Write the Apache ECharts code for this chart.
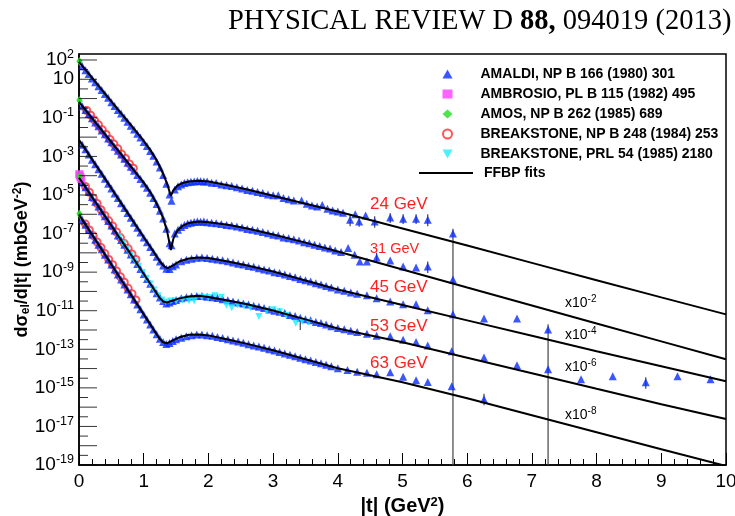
<!DOCTYPE html>
<html>
<head>
<meta charset="utf-8">
<script src="https://cdn.jsdelivr.net/npm/echarts@6/dist/echarts.min.js"></script>
</head>
<body style="margin:0">
<div id="container" style="width:735px;height:516px"></div>
<script>
// every value below is log10(dsigma/dt), paired with |t|
// (the y axis is a value axis in decades, labelled as powers of ten)
const fit24 = [[0,1.90],[0.2,1.08],[0.4,0.26],[0.6,-0.56],[0.8,-1.37],[1.0,-2.2],[1.1,-2.66],[1.2,-3.2],[1.3,-3.9],[1.36,-4.4],[1.42,-5.05],[1.46,-4.75],[1.52,-4.52],[1.6,-4.38],[1.7,-4.3],[1.85,-4.26],[2.0,-4.3],[2.3,-4.5],[2.6,-4.72],[3.0,-5.04],[3.5,-5.45],[4.0,-5.86],[5,-6.74],[6,-7.62],[7,-8.52],[8,-9.42],[9,-10.31],[10,-11.19]];
const fit31 = [[0,-0.17],[0.2,-1.01],[0.4,-1.85],[0.6,-2.68],[0.8,-3.52],[1.0,-4.36],[1.1,-4.85],[1.2,-5.45],[1.3,-6.2],[1.36,-6.85],[1.42,-7.85],[1.46,-7.25],[1.52,-6.85],[1.6,-6.6],[1.7,-6.45],[1.85,-6.38],[2.0,-6.41],[2.3,-6.54],[2.6,-6.74],[3.0,-7.05],[3.5,-7.47],[4.0,-7.93],[5,-8.86],[6,-9.8],[7,-10.73],[8,-11.66],[9,-12.59],[10,-13.52]];
const fit45 = [[0,-2.14],[0.25,-3.4],[0.5,-4.66],[0.75,-5.93],[1.0,-7.19],[1.15,-7.93],[1.25,-8.45],[1.32,-8.71],[1.37,-8.79],[1.45,-8.66],[1.55,-8.45],[1.7,-8.29],[1.85,-8.24],[2.0,-8.27],[2.3,-8.45],[2.6,-8.66],[3.0,-8.97],[3.5,-9.43],[4.0,-9.9],[5,-10.7],[6,-11.5],[7,-12.3],[8,-13.1],[9,-13.88],[10,-14.66]];
const fit53 = [[0,-4.1],[0.25,-5.35],[0.5,-6.59],[0.75,-7.83],[1.0,-9.1],[1.15,-9.85],[1.24,-10.31],[1.3,-10.52],[1.36,-10.57],[1.45,-10.47],[1.55,-10.36],[1.7,-10.26],[1.85,-10.23],[2.0,-10.29],[2.3,-10.47],[2.6,-10.67],[3.0,-10.99],[3.5,-11.45],[4.0,-11.92],[5,-12.64],[6,-13.44],[7,-14.24],[8,-15.05],[9,-15.85],[10,-16.62]];
const fit63 = [[0,-6.02],[0.25,-7.31],[0.5,-8.6],[0.75,-9.9],[1.0,-11.19],[1.15,-11.97],[1.24,-12.43],[1.3,-12.64],[1.36,-12.69],[1.45,-12.54],[1.55,-12.38],[1.7,-12.25],[1.85,-12.23],[2.0,-12.28],[2.3,-12.49],[2.6,-12.72],[3.0,-13.05],[3.5,-13.52],[4.0,-13.98],[5,-14.71],[6,-15.54],[7,-16.42],[8,-17.3],[9,-18.18],[10,-19.05]];

const amaldi24 = [[0.05,1.68],[0.1,1.47],[0.15,1.27],[0.2,1.04],[0.25,0.85],[0.3,0.64],[0.35,0.44],[0.4,0.23],[0.45,0.04],[0.5,-0.19],[0.55,-0.38],[0.6,-0.59],[0.65,-0.78],[0.7,-1.0],[0.75,-1.2],[0.8,-1.41],[0.85,-1.6],[0.9,-1.82],[0.95,-2.02],[1.0,-2.25],[1.05,-2.46],[1.1,-2.72],[1.15,-2.97],[1.2,-3.26],[1.25,-3.57],[1.3,-3.96],[1.35,-4.42],[1.4,-4.98],[1.43,-5.3],[1.48,-4.72],[1.53,-4.55],[1.58,-4.45],[1.63,-4.38],[1.68,-4.34],[1.73,-4.31],[1.78,-4.3],[1.83,-4.27],[1.88,-4.29],[1.93,-4.3],[1.98,-4.3],[2.05,-4.36],[2.12,-4.38],[2.2,-4.45],[2.28,-4.5],[2.36,-4.54],[2.44,-4.6],[2.52,-4.66],[2.6,-4.74],[2.68,-4.78],[2.76,-4.84],[2.84,-4.9],[2.92,-4.97],[3.0,-5.02],[3.08,-5.02],[3.16,-5.16],[3.24,-5.22],[3.32,-5.28],[3.44,-5.28],[3.52,-5.46],[3.6,-5.54],[3.68,-5.6],[3.76,-5.52],[3.84,-5.72],[3.92,-5.8],[4.0,-5.86],[4.08,-5.92],[4.19,-6.28],[4.27,-6.0],[4.33,-6.38],[4.43,-6.07],[4.57,-6.38],[4.81,-6.17],[5.01,-6.23],[5.21,-6.23],[5.39,-6.28],[5.78,-7.0]];
const amaldi31 = [[0.05,-0.4],[0.1,-0.6],[0.15,-0.8],[0.2,-1.02],[0.25,-1.24],[0.3,-1.43],[0.35,-1.66],[0.4,-1.85],[0.45,-2.07],[0.5,-2.27],[0.55,-2.5],[0.6,-2.7],[0.65,-2.9],[0.7,-3.12],[0.75,-3.33],[0.8,-3.54],[0.85,-3.74],[0.9,-3.96],[0.95,-4.17],[1.0,-4.4],[1.05,-4.62],[1.1,-4.88],[1.15,-5.15],[1.2,-5.47],[1.25,-5.82],[1.3,-6.22],[1.35,-6.75],[1.4,-7.5],[1.43,-7.6],[1.48,-7.0],[1.53,-6.8],[1.58,-6.66],[1.63,-6.56],[1.68,-6.48],[1.73,-6.44],[1.78,-6.4],[1.83,-6.38],[1.88,-6.39],[1.93,-6.38],[1.98,-6.42],[2.05,-6.44],[2.12,-6.47],[2.2,-6.5],[2.28,-6.55],[2.36,-6.58],[2.44,-6.64],[2.52,-6.68],[2.6,-6.76],[2.68,-6.8],[2.76,-6.86],[2.84,-6.92],[2.92,-6.98],[3.0,-7.06],[3.08,-7.1],[3.16,-7.2],[3.24,-7.24],[3.32,-7.3],[3.4,-7.36],[3.48,-7.45],[3.56,-7.5],[3.64,-7.58],[3.72,-7.64],[3.8,-7.72],[3.88,-7.78],[3.96,-7.88],[4.05,-7.95],[4.16,-7.75],[4.26,-8.1],[4.34,-8.45],[4.45,-8.45],[4.6,-8.24],[4.81,-8.4],[5.01,-8.71],[5.21,-8.76],[5.39,-8.71],[5.78,-9.38]];
const amaldi45 = [[0.05,-2.4],[0.1,-2.63],[0.15,-2.9],[0.2,-3.17],[0.25,-3.4],[0.3,-3.66],[0.35,-3.9],[0.4,-4.16],[0.45,-4.42],[0.5,-4.66],[0.55,-4.92],[0.6,-5.16],[0.65,-5.43],[0.7,-5.68],[0.75,-5.94],[0.8,-6.18],[0.85,-6.44],[0.9,-6.7],[0.95,-6.94],[1.0,-7.2],[1.05,-7.45],[1.1,-7.7],[1.15,-7.95],[1.2,-8.2],[1.25,-8.45],[1.3,-8.66],[1.35,-8.82],[1.4,-8.84],[1.45,-8.7],[1.5,-8.6],[1.58,-8.44],[1.66,-8.36],[1.74,-8.3],[1.82,-8.26],[1.9,-8.24],[1.98,-8.27],[2.06,-8.3],[2.14,-8.34],[2.22,-8.38],[2.3,-8.44],[2.38,-8.5],[2.46,-8.56],[2.54,-8.6],[2.62,-8.68],[2.7,-8.72],[2.78,-8.8],[2.86,-8.86],[2.94,-8.92],[3.02,-9.0],[3.1,-9.05],[3.18,-9.12],[3.26,-9.2],[3.34,-9.26],[3.42,-9.36],[3.5,-9.42],[3.58,-9.48],[3.66,-9.58],[3.74,-9.64],[3.82,-9.72],[3.9,-9.8],[4.0,-9.9],[4.1,-9.96],[4.2,-10.06],[4.3,-10.12],[4.45,-10.2],[4.6,-10.36],[4.81,-10.52],[5.01,-10.67],[5.21,-10.67],[5.39,-10.98],[5.78,-11.19],[6.26,-11.4],[6.77,-11.4],[7.25,-11.97]];
const amaldi53 = [[0.05,-4.35],[0.1,-4.6],[0.15,-4.84],[0.2,-5.1],[0.25,-5.35],[0.3,-5.6],[0.35,-5.84],[0.4,-6.1],[0.45,-6.35],[0.5,-6.58],[0.55,-6.84],[0.6,-7.1],[0.65,-7.34],[0.7,-7.58],[0.75,-7.84],[0.8,-8.08],[0.85,-8.34],[0.9,-8.58],[0.95,-8.84],[1.0,-9.1],[1.05,-9.36],[1.1,-9.6],[1.15,-9.86],[1.2,-10.1],[1.25,-10.32],[1.3,-10.5],[1.35,-10.62],[1.4,-10.58],[1.45,-10.5],[1.5,-10.44],[1.58,-10.36],[1.66,-10.3],[1.74,-10.26],[1.82,-10.24],[1.9,-10.24],[1.98,-10.27],[2.06,-10.3],[2.14,-10.34],[2.22,-10.4],[2.3,-10.46],[2.38,-10.52],[2.46,-10.58],[2.54,-10.62],[2.62,-10.68],[2.7,-10.74],[2.78,-10.8],[2.86,-10.86],[2.94,-10.94],[3.02,-11.0],[3.1,-11.06],[3.18,-11.12],[3.26,-11.22],[3.34,-11.28],[3.42,-11.36],[3.5,-11.44],[3.58,-11.5],[3.66,-11.58],[3.74,-11.64],[3.82,-11.72],[3.9,-11.8],[4.0,-11.9],[4.1,-11.96],[4.2,-12.04],[4.3,-12.1],[4.45,-12.2],[4.6,-12.3],[4.81,-12.33],[5.01,-12.5],[5.21,-12.62],[5.39,-12.8],[5.76,-13.1],[6.26,-13.42],[6.77,-13.83],[7.25,-14.04],[7.76,-14.55],[8.25,-14.4],[8.76,-14.71],[9.25,-14.4],[9.76,-14.55]];
const amaldi63 = [[0.05,-6.28],[0.1,-6.54],[0.15,-6.8],[0.2,-7.05],[0.25,-7.32],[0.3,-7.58],[0.35,-7.82],[0.4,-8.1],[0.45,-8.35],[0.5,-8.6],[0.55,-8.86],[0.6,-9.12],[0.65,-9.38],[0.7,-9.64],[0.75,-9.9],[0.8,-10.15],[0.85,-10.42],[0.9,-10.68],[0.95,-10.92],[1.0,-11.2],[1.05,-11.46],[1.1,-11.72],[1.15,-11.97],[1.2,-12.22],[1.25,-12.45],[1.3,-12.62],[1.35,-12.72],[1.4,-12.68],[1.45,-12.57],[1.5,-12.48],[1.58,-12.4],[1.66,-12.32],[1.74,-12.27],[1.82,-12.24],[1.9,-12.24],[1.98,-12.27],[2.06,-12.3],[2.14,-12.36],[2.22,-12.42],[2.3,-12.48],[2.38,-12.54],[2.46,-12.6],[2.54,-12.66],[2.62,-12.74],[2.7,-12.8],[2.78,-12.86],[2.86,-12.92],[2.94,-13.0],[3.02,-13.06],[3.1,-13.14],[3.18,-13.22],[3.26,-13.28],[3.34,-13.36],[3.42,-13.44],[3.5,-13.52],[3.58,-13.58],[3.66,-13.66],[3.74,-13.72],[3.82,-13.8],[3.9,-13.88],[4.0,-13.98],[4.15,-14.08],[4.3,-14.16],[4.45,-14.22],[4.6,-14.3],[4.81,-14.19],[5.01,-14.42],[5.21,-14.6],[5.39,-14.7],[5.76,-14.92],[6.26,-15.59]];

const breakNpb = [[0.12,-0.62],[0.18,-0.86],[0.24,-1.12],[0.3,-1.36],[0.36,-1.62],[0.42,-1.86],[0.48,-2.12],[0.54,-2.36],[0.6,-2.6],[0.66,-2.88],[0.72,-3.11],[0.78,-3.39],[0.84,-3.61],
  [0.1,-4.56],[0.16,-4.86],[0.22,-5.16],[0.28,-5.44],[0.34,-5.76],[0.4,-6.06],[0.46,-6.34],[0.52,-6.61],[0.58,-6.92],[0.64,-7.21],[0.7,-7.51],[0.76,-7.78],[0.82,-8.06],[0.88,-8.34],
  [0.1,-6.51],[0.16,-6.81],[0.22,-7.11],[0.28,-7.44],[0.34,-7.72],[0.4,-8.04],[0.46,-8.34],[0.52,-8.62],[0.58,-8.94],[0.64,-9.24],[0.7,-9.52],[0.76,-9.84],[0.82,-10.12],[0.88,-10.44]];
const breakPrl = [[0.62,-7.15],[0.68,-7.5],[0.74,-7.8],[0.8,-8.12],[0.86,-8.42],[0.92,-8.7],[0.98,-9.02],[1.04,-9.32],[1.1,-9.62],[1.16,-9.92],[1.22,-10.22],[1.28,-10.45],[1.34,-10.55],[1.42,-10.5],[1.5,-10.5],[1.6,-10.45],[1.7,-10.48],[1.78,-10.5],[1.9,-10.3],[2.0,-10.32],[2.1,-10.22],[2.2,-10.3],[2.28,-10.72],[2.36,-10.85],[2.45,-10.7],[2.55,-10.75],[2.65,-10.85],[2.78,-11.3],[2.9,-11.0],[3.0,-10.95],[3.1,-11.05],[3.2,-11.25],[3.35,-11.65],[3.45,-11.55],[3.55,-11.6]];
const amos = [[0.005,1.95],[0.012,1.9],[0.005,-0.08],[0.012,-0.13],[0.006,-4.02],[0.014,-4.07],[0.005,-5.96],[0.013,-6.02]];
const ambrosio = [[0.004,-3.92],[0.012,-4.0],[0.022,-4.08],[0.035,-4.18]];
// error bars: |t|, low, high (log10)
const errBars = [[4.19,-6.62,-6.0],[4.33,-6.65,-6.1],[4.57,-6.7,-6.1],[4.81,-6.45,-5.95],[5.01,-6.5,-6.0],[5.21,-6.5,-6.0],[5.39,-6.62,-6.0],[5.78,-19,-6.75],[4.6,-8.5,-8.0],[5.39,-9.05,-8.45],[7.25,-19,-11.7],[8.76,-15.05,-14.45],[6.26,-15.9,-15.3],[3.42,-12.0,-11.45]];

// y axis: decade ticks, half-decade minor ticks, labelled exponents
const yMajorTicks = [-19,-18,-17,-16,-15,-14,-13,-12,-11,-10,-9,-8,-7,-6,-5,-4,-3,-2,-1,0,1,2];
const yMinorTicks = [-18.5,-17.5,-16.5,-15.5,-14.5,-13.5,-12.5,-11.5,-10.5,-9.5,-8.5,-7.5,-6.5,-5.5,-4.5,-3.5,-2.5,-1.5,-0.5,0.5,1.5];
const labeledExp = [2, 1, -1, -3, -5, -7, -9, -11, -13, -15, -17, -19];
const xTicks = [0, 1, 2, 3, 4, 5, 6, 7, 8, 9, 10];

const NAME_AMALDI = 'AMALDI, NP B 166 (1980) 301';
const NAME_AMBROSIO = 'AMBROSIO, PL B 115 (1982) 495';
const NAME_AMOS = 'AMOS, NP B 262 (1985) 689';
const NAME_BNPB = 'BREAKSTONE, NP B 248 (1984) 253';
const NAME_BPRL = 'BREAKSTONE, PRL 54 (1985) 2180';

const SANS = 'Liberation Sans';

var dom = document.getElementById('container');
var myChart = echarts.init(dom, null, {renderer: 'canvas'});

var fitSeries = [fit24, fit31, fit45, fit53, fit63].map(function (f) {
    return {
        name: 'FFBP fits', type: 'line', data: f, showSymbol: false, symbol: 'none',
        lineStyle: {color: '#000', width: 2}, itemStyle: {color: '#000'}, z: 10, silent: true
    };
});

// inward ticks on the left axis: thin bars anchored at |t| = 0 on the y scale
function tickSeries(name, values, len) {
    return {
        name: name, type: 'scatter', silent: true, clip: false, z: 12,
        symbol: 'rect', symbolSize: [len, 1], symbolOffset: [len / 2, 0],
        itemStyle: {color: '#000'},
        data: values.map(v => [0, v])
    };
}

var legendText = {fontFamily: SANS, fontWeight: 'bold', fontSize: 14, color: '#000', lineHeight: 16};

var option = {
    animation: false,
    backgroundColor: '#fff',
    grid: {left: 79, right: 9, top: 54, bottom: 51, show: true, borderColor: '#000', borderWidth: 1.5, containLabel: false, outerBoundsMode: 'none'},
    legend: [{
        data: [NAME_AMALDI, NAME_AMBROSIO, NAME_AMOS, NAME_BNPB, NAME_BPRL],
        orient: 'vertical', left: 437, top: 61, itemWidth: 10, itemHeight: 9, itemGap: 4,
        textStyle: Object.assign({padding: [0, 0, 0, 23]}, legendText),
        selectedMode: false
    }, {
        data: [{name: 'FFBP fits', icon: 'rect'}],
        orient: 'vertical', left: 414, top: 160, itemWidth: 54, itemHeight: 2,
        textStyle: Object.assign({padding: [0, 0, 0, 6]}, legendText),
        selectedMode: false
    }],
    xAxis: {
        type: 'value', min: 0, max: 10, interval: 1,
        name: '{b||t| (GeV}{s|2}{b|)}', nameLocation: 'middle', nameGap: 30,
        nameTextStyle: {rich: {
            b: {fontFamily: SANS, fontWeight: 'bold', fontSize: 20, color: '#000'},
            s: {fontFamily: SANS, fontWeight: 'bold', fontSize: 13, color: '#000', padding: [0, 0, 9, 0]}
        }},
        axisLine: {show: true, onZero: false, lineStyle: {color: '#000', width: 1.5}},
        axisTick: {show: true, inside: true, length: 12, lineStyle: {color: '#000', width: 1}},
        minorTick: {show: true, splitNumber: 5, length: 6, lineStyle: {color: '#000', width: 1}},
        axisLabel: {fontFamily: SANS, fontSize: 19, color: '#000', margin: 7,
            formatter: v => xTicks.indexOf(v) >= 0 ? String(v) : ''},
        splitLine: {show: false}
    },
    yAxis: {
        type: 'value', min: -19, max: 2.31, interval: 1,
        name: '{b|dσ}{sub|el}{b|/d|t| (mbGeV}{sup|-2}{b|)}', nameLocation: 'middle', nameGap: 47, nameRotate: 90,
        nameMoveOverlap: false,
        nameTextStyle: {rich: {
            b: {fontFamily: SANS, fontWeight: 'bold', fontSize: 18, color: '#000'},
            sub: {fontFamily: SANS, fontWeight: 'bold', fontSize: 12, color: '#000', padding: [8, 0, 0, 0]},
            sup: {fontFamily: SANS, fontWeight: 'bold', fontSize: 12, color: '#000', padding: [0, 0, 8, 0]}
        }},
        axisLine: {show: true, onZero: false, lineStyle: {color: '#000', width: 1.5}},
        axisTick: {show: false},
        axisLabel: {
            show: true, margin: 5, showMaxLabel: false,
            formatter: function (v) {
                var n = Math.round(v);
                if (Math.abs(v - n) > 1e-6 || labeledExp.indexOf(n) < 0) return '';
                if (n === 1) return '{b|10}';
                return '{b|10}{s|' + n + '}';
            },
            rich: {
                b: {fontFamily: SANS, fontSize: 19, color: '#000'},
                s: {fontFamily: SANS, fontSize: 12.5, color: '#000', padding: [0, 0, 10, 0]}
            }
        },
        splitLine: {show: false}
    },
    graphic: [
        {type: 'text', x: 228, y: 22, style: {
            text: '{n|PHYSICAL REVIEW D }{bd|88,}{n| 094019 (2013)}', verticalAlign: 'middle',
            rich: {n: {fontFamily: 'Liberation Serif', fontSize: 28.5, fill: '#000'},
                   bd: {fontFamily: 'Liberation Serif', fontSize: 28.5, fontWeight: 'bold', fill: '#000'}}}},
        {type: 'text', x: 370, y: 204, style: {text: '24 GeV', fontFamily: SANS, fontSize: 17, fill: '#ff2020', verticalAlign: 'middle'}},
        {type: 'text', x: 370, y: 249, style: {text: '31 GeV', fontFamily: SANS, fontSize: 14.5, fill: '#ff2020', verticalAlign: 'middle'}},
        {type: 'text', x: 370, y: 287, style: {text: '45 GeV', fontFamily: SANS, fontSize: 17, fill: '#ff2020', verticalAlign: 'middle'}},
        {type: 'text', x: 370, y: 326, style: {text: '53 GeV', fontFamily: SANS, fontSize: 17, fill: '#ff2020', verticalAlign: 'middle'}},
        {type: 'text', x: 370, y: 363, style: {text: '63 GeV', fontFamily: SANS, fontSize: 17, fill: '#ff2020', verticalAlign: 'middle'}}
    ].concat([['-2', 303], ['-4', 335], ['-6', 367], ['-8', 415]].map(function (s) {
        return {type: 'text', x: 565, y: s[1], style: {
            text: '{a|x10}{s|' + s[0] + '}', verticalAlign: 'middle',
            rich: {a: {fontFamily: SANS, fontSize: 14, fill: '#000'},
                   s: {fontFamily: SANS, fontSize: 10, fill: '#000', padding: [0, 0, 8, 0]}}}};
    })),
    series: [{
        name: 'errors', type: 'custom', clip: true, z: 1, silent: true,
        data: errBars,
        encode: {x: 0, y: [1, 2]},
        renderItem: function (params, api) {
            var p1 = api.coord([api.value(0), api.value(1)]);
            var p2 = api.coord([api.value(0), api.value(2)]);
            return {type: 'line', shape: {x1: p1[0], y1: p1[1], x2: p2[0], y2: p2[1]},
                    style: {stroke: '#444', lineWidth: 1.2}};
        }
    }, {
        name: NAME_AMALDI, type: 'scatter', symbol: 'triangle', symbolSize: 8, z: 3,
        itemStyle: {color: '#0a2cff'},
        data: [].concat(amaldi24, amaldi31, amaldi45, amaldi53, amaldi63)
    }, {
        name: NAME_BNPB, type: 'scatter', symbol: 'emptyCircle', symbolSize: 7, z: 2,
        itemStyle: {color: '#ff2a2a', borderWidth: 1},
        data: breakNpb
    }, {
        name: NAME_BPRL, type: 'scatter', symbol: 'path://M0,0L10,0L5,9Z', symbolSize: 7, z: 4,
        itemStyle: {color: '#19f0ff'},
        data: breakPrl
    }, {
        name: NAME_AMOS, type: 'scatter', symbol: 'diamond', symbolSize: [6, 8], z: 5,
        itemStyle: {color: '#22dd22'},
        data: amos
    }, {
        name: NAME_AMBROSIO, type: 'scatter', symbol: 'rect', symbolSize: 8, z: 4,
        itemStyle: {color: '#ff3cff'},
        data: ambrosio
    }].concat(fitSeries, [tickSeries('yMajor', yMajorTicks, 18), tickSeries('yMinor', yMinorTicks, 9)])
};

myChart.setOption(option);
</script>
</body>
</html>
